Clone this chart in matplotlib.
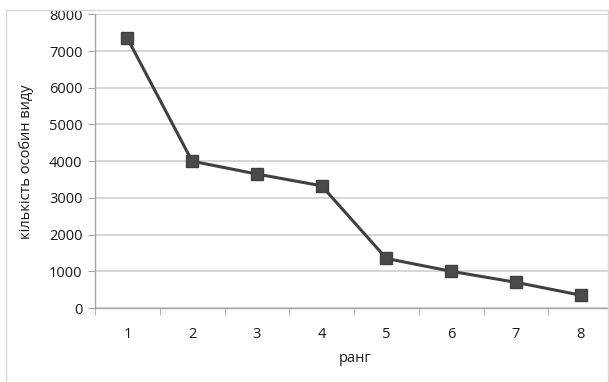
import matplotlib
matplotlib.use("Agg")
import matplotlib.pyplot as plt
from matplotlib.lines import Line2D

# rank-abundance data
ranks = [1, 2, 3, 4, 5, 6, 7, 8]
counts = [7350, 4000, 3650, 3330, 1350, 1000, 700, 350]
yticks = [0, 1000, 2000, 3000, 4000, 5000, 6000, 7000, 8000]

plt.rcParams['font.family'] = ['Open Sans', 'DejaVu Sans']

W, H = 609, 382
fig = plt.figure(figsize=(W / 100, H / 100), dpi=100)
fig.patch.set_facecolor('white')

# outer chart frame (light gray)
frame_kw = dict(color='#d9d9d9', lw=1.0, transform=fig.transFigure)
fig.add_artist(Line2D([6 / W, 6 / W], [0, 1 - 10 / H], **frame_kw))
fig.add_artist(Line2D([6 / W, 608 / W], [1 - 10 / H, 1 - 10 / H], **frame_kw))
fig.add_artist(Line2D([608 / W, 608 / W], [0, 1 - 10 / H], **frame_kw))

ax = fig.add_axes([95 / W, 74 / H, 518 / W, (308 - 14.4) / H])
ax.plot(ranks, counts, color='#404040', lw=2.2, marker='s', markersize=9,
        markerfacecolor='#4a4a4a', markeredgecolor='#404040', zorder=3,
        clip_on=False)

ax.set_xlim(0.5, 8.5)
ax.set_ylim(0, 8000)
ax.set_yticks(yticks)
ax.set_xticks(ranks)
ax.set_xticks([r + 0.5 for r in [0] + ranks[:-1]], minor=True)

ax.yaxis.grid(True, color='#d0d0d0', lw=1.2)
ax.set_axisbelow(True)

for s in ['top', 'right']:
    ax.spines[s].set_visible(False)
for s in ['left', 'bottom']:
    ax.spines[s].set_color('#a6a6a6')
    ax.spines[s].set_linewidth(1.0)

fs = 10.5
ax.tick_params(axis='y', length=5, color='#a6a6a6', labelsize=fs,
               labelcolor='#1a1a1a', pad=4)
ax.tick_params(axis='x', which='major', length=0, labelsize=fs,
               labelcolor='#1a1a1a', pad=14)
ax.tick_params(axis='x', which='minor', length=5, color='#a6a6a6')

ax.set_ylabel('кількість особин виду', fontsize=fs, color='#1a1a1a')
ax.yaxis.set_label_coords(-(95 - 27) / 518, 0.5)
ax.yaxis.label.set_va('center')
ax.set_xlabel('ранг', fontsize=fs, color='#1a1a1a')
ax.xaxis.set_label_coords((355 - 95) / 518, -(358 - 308) / (308 - 14.4))
ax.xaxis.label.set_va('center')

fig.savefig('out.png', dpi=100, facecolor='white')
